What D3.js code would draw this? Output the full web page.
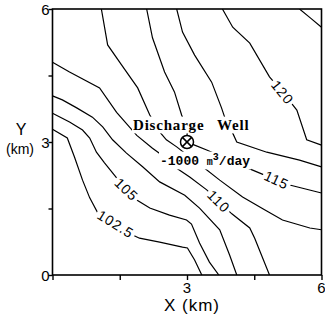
<!DOCTYPE html>
<html>
<head>
<meta charset="utf-8">
<script src="https://cdn.jsdelivr.net/npm/d3@7"></script>
<style>
  body { margin: 0; background: #fff; }
  svg { display: block; }
  .tick-label, .axis-title { font-family: "Liberation Sans", Arial, sans-serif; fill: #000; }
  .contour { fill: none; stroke: #000; stroke-width: 1.2; }
  .clabel { font-family: "Liberation Sans", Arial, sans-serif; font-size: 14px; letter-spacing: 1px; }
</style>
</head>
<body>
<div id="chart"></div>
<script>
// head contours (m), points in km
const levels = [102.5, 105, 107.5, 110, 112.5, 115, 117.5, 120, 122.5];

const c1025 = [[0,3.29],[0.33,3.09],[0.49,2.66],[0.67,2.14],[0.83,1.74],[1.0,1.42],[1.3,1.2],[1.65,0.97],[1.94,0.83],[2.39,0.74],[2.9,0.63],[3.01,0.61],[3.17,0.34],[3.33,0]];
const c105 = [[0,3.65],[0.38,3.45],[0.67,3.27],[0.83,3.09],[0.98,2.77],[1.16,2.53],[1.43,2.19],[1.88,1.69],[2.17,1.51],[2.61,1.35],[2.99,1.24],[3.1,1.15],[3.28,0.72],[3.5,0.29],[3.71,0]];
const c1075 = [[0,4.04],[0.22,3.95],[0.54,3.77],[0.89,3.56],[1.12,3.34],[1.34,3.05],[1.65,2.75],[2.01,2.44],[2.39,2.1],[2.95,1.8],[3.28,1.51],[3.73,1.02],[3.95,0.45],[4.11,0]];
const c110 = [[0,4.8],[0.38,4.58],[1.05,4.22],[1.43,3.67],[1.88,3.15],[2.23,2.86],[2.5,2.66],[2.77,2.41],[3.06,2.21],[3.44,1.92],[4.0,1.38],[4.4,1.06],[4.51,0.83],[4.84,0]];
const c1125 = [[1.09,6],[1.23,5.19],[1.54,4.74],[1.9,4.22],[2.17,3.61],[2.39,3.23],[2.54,3.05],[2.77,2.89],[3.06,2.66],[3.35,2.44],[3.73,2.14],[4.24,1.76],[4.73,1.47],[5.13,1.24],[5.74,1.06],[6,1.02]];
const c115 = [[2.1,6],[2.23,5.35],[2.5,4.58],[2.72,4.13],[2.88,3.61],[3.01,3.27],[2.99,3.02],[3.17,2.93],[3.44,2.82],[4.29,2.44],[5.0,2.14],[5.29,2.03],[6,1.85]];
const c1175 = [[2.77,6],[2.9,5.48],[3.17,4.96],[3.55,4.35],[3.77,3.77],[3.86,3.5],[4.02,3.2],[4.11,3.0],[4.78,2.77],[5.51,2.59],[6,2.44]];
const c120 = [[3.79,6],[4.02,5.59],[4.4,5.23],[4.84,4.47],[5.13,4.13],[5.45,3.72],[5.67,3.05],[6,2.93]];
const c1225 = [[5.51,6],[5.75,5.8],[6,5.59]];

const contours = [c1025, c105, c1075, c110, c1125, c115, c1175, c120, c1225];

// labelled contours: text, anchor (km), rotation (deg)
const labelText = ['102.5', '105', '110', '115', '120'];
const labelAt = [[1.41, 1.15, 32], [1.65, 1.93, 44], [3.71, 1.66, 45], [5.0, 2.14, 25], [5.13, 4.12, 51]];

// discharge well
const well = [3, 3];
const wellRate = -1000;

const xTicks = [0, 1.5, 3, 4.5, 6];
const xTickLabels = [3, 6];
const yTicks = [0, 1.5, 3, 4.5, 6];
const yTickLabels = [0, 3, 6];

const W = 325, H = 321;
const margin = { top: 9, right: 3.5, bottom: 46, left: 52.5 };

const x = d3.scaleLinear().domain([0, 6]).range([margin.left, W - margin.right]);
const y = d3.scaleLinear().domain([0, 6]).range([H - margin.bottom, margin.top]);

const svg = d3.select('#chart').append('svg')
  .attr('width', W).attr('height', H);

svg.append('defs').append('clipPath').attr('id', 'plot-clip')
  .append('rect')
  .attr('x', x(0)).attr('y', y(6))
  .attr('width', x(6) - x(0)).attr('height', y(0) - y(6));

const line = d3.line().x(d => x(d[0])).y(d => y(d[1]));

// contour lines
svg.append('g').attr('clip-path', 'url(#plot-clip)')
  .selectAll('path')
  .data(contours)
  .enter()
  .append('path')
  .attr('class', 'contour')
  .attr('d', line);

// helper: white box behind a text node
function backWhite(g, textSel, pad) {
  const b = textSel.node().getBBox();
  g.insert('rect', 'text')
    .attr('x', b.x - pad).attr('y', b.y - pad * 0.4)
    .attr('width', b.width + pad * 2).attr('height', b.height + pad * 0.8)
    .attr('fill', '#fff');
}

// contour labels
labelText.forEach((t, i) => {
  const [lx, ly, a] = labelAt[i];
  const g = svg.append('g')
    .attr('transform', `translate(${x(lx)},${y(ly)}) rotate(${a})`);
  const txt = g.append('text')
    .attr('class', 'clabel')
    .attr('text-anchor', 'middle')
    .attr('dominant-baseline', 'central')
    .text(t);
  backWhite(g, txt, 2);
});

// well annotation
const wx = x(well[0]), wy = y(well[1]);

const gName = svg.append('g');
const name = gName.append('text')
  .attr('x', wx - 54).attr('y', wy - 12)
  .style('font-family', '"Liberation Serif", "Times New Roman", serif')
  .style('font-size', '15px')
  .style('font-weight', '600')
  .style('letter-spacing', '0.8px');
name.append('tspan').text('Discharge');
name.append('tspan').attr('x', wx + 30).text('Well');
backWhite(gName, name, 1);

const gRate = svg.append('g');
const rate = gRate.append('text')
  .attr('x', wx - 27).attr('y', wy + 23)
  .style('font-family', '"Liberation Mono", "Courier New", monospace')
  .style('font-weight', 'bold')
  .style('font-size', '13px');
rate.append('tspan').text(`${wellRate} `);
rate.append('tspan').style('font-size', '10px').text('m');
rate.append('tspan').attr('dy', -5).style('font-size', '10px').text('3');
rate.append('tspan').attr('dy', 5).text('/day');
backWhite(gRate, rate, 1);

svg.append('circle')
  .attr('cx', wx).attr('cy', wy).attr('r', 6.5)
  .attr('fill', '#fff').attr('stroke', '#000').attr('stroke-width', 1.5);
const k = 6.5 * Math.SQRT1_2;
svg.append('path')
  .attr('d', `M${wx - k},${wy - k}L${wx + k},${wy + k}M${wx - k},${wy + k}L${wx + k},${wy - k}`)
  .attr('stroke', '#000').attr('stroke-width', 1.5);

// frame
svg.append('rect')
  .attr('x', x(0)).attr('y', y(6))
  .attr('width', x(6) - x(0)).attr('height', y(0) - y(6))
  .attr('fill', 'none').attr('stroke', '#000').attr('stroke-width', 1.6);

// axes
svg.append('g')
  .attr('transform', `translate(0,${y(0)})`)
  .call(d3.axisBottom(x).tickValues(xTicks).tickSize(5).tickFormat(''))
  .call(g => g.select('.domain').remove())
  .call(g => g.selectAll('.tick line').attr('stroke', '#000').attr('stroke-width', 1.4));

svg.append('g')
  .attr('transform', `translate(${x(0)},0)`)
  .call(d3.axisLeft(y).tickValues(yTicks).tickSize(4).tickFormat(''))
  .call(g => g.select('.domain').remove())
  .call(g => g.selectAll('.tick line').attr('stroke', '#000').attr('stroke-width', 1.4));

svg.selectAll('.xlab')
  .data(xTickLabels)
  .enter()
  .append('text')
  .attr('class', 'tick-label')
  .attr('x', d => x(d)).attr('y', y(0) + 18)
  .attr('text-anchor', 'middle')
  .style('font-size', '15px')
  .text(d => d);

svg.selectAll('.ylab')
  .data(yTickLabels)
  .enter()
  .append('text')
  .attr('class', 'tick-label')
  .attr('x', x(0) - 3).attr('y', d => y(d) + 5.5)
  .attr('text-anchor', 'end')
  .style('font-size', '15px')
  .text(d => d);

// axis titles
svg.append('text')
  .attr('class', 'axis-title')
  .attr('x', 192).attr('y', 311)
  .attr('text-anchor', 'middle')
  .style('font-size', '17px')
  .style('letter-spacing', '1px')
  .text('X (km)');

svg.append('text')
  .attr('class', 'axis-title')
  .attr('x', 21).attr('y', 135)
  .attr('text-anchor', 'middle')
  .style('font-size', '16px')
  .text('Y');

svg.append('text')
  .attr('class', 'axis-title')
  .attr('x', 20).attr('y', 154)
  .attr('text-anchor', 'middle')
  .style('font-size', '14px')
  .text('(km)');
</script>
</body>
</html>
